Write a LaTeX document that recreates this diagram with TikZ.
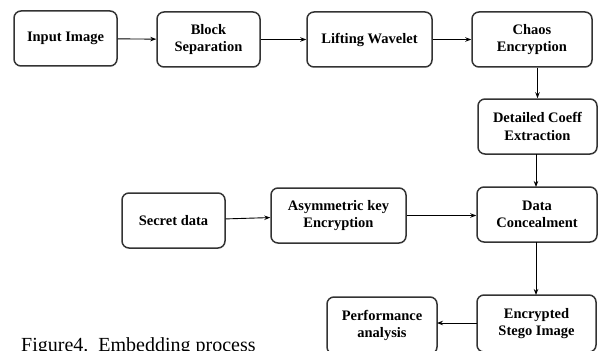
\documentclass[tikz,border=0pt]{standalone}
\usepackage{fontspec}
\setmainfont{Liberation Serif}
\usetikzlibrary{arrows.meta}
\tikzset{
  blk/.style={draw=black!80, line width=1.5pt, rounded corners=7pt, align=center,
    font=\fontsize{14.5}{17.5}\selectfont\bfseries, inner sep=0pt},
  arr/.style={-{Stealth[length=6pt,width=4.5pt]}, line width=0.9pt}
}
\begin{document}
\begin{tikzpicture}[x=1pt,y=-1pt]
      \useasboundingbox (0,0) rectangle (601,350);
      \clip (0,0) rectangle (601,350);
      \draw
        (65.5,38.5) node[blk, minimum width=103pt, minimum height=55pt] (input){Input Image}
        (208.5,39.5) node[blk, minimum width=103pt, minimum height=55pt] (block){Block\\Separation}
        (369.5,39.5) node[blk, minimum width=125pt, minimum height=55pt] (lift){Lifting Wavelet}
        (532,39.5) node[blk, minimum width=120pt, minimum height=55pt] (chaos){Chaos\\Encryption}
        (537.5,126.5) node[blk, minimum width=119pt, minimum height=55pt] (coeff){Detailed Coeff\\Extraction}
        (537,214.5) node[blk, minimum width=120pt, minimum height=55pt] (conceal){Data\\Concealment}
        (173.5,220.5) node[blk, minimum width=103pt, minimum height=55pt] (secret){Secret data}
        (338.5,215.5) node[blk, minimum width=135pt, minimum height=55pt] (asym){Asymmetric key\\Encryption}
        (536.5,323.5) node[blk, minimum width=119pt, minimum height=57pt] (stego){Encrypted\\Stego Image}
        (382,325.5) node[blk, minimum width=110pt, minimum height=57pt] (perf){Performance\\analysis};
      \node[anchor=base west, font=\fontsize{20}{24}\selectfont, inner sep=0pt] (caption) at (21,351) {Figure4.\ \ Embedding process};
      \coordinate (c1) at (536,154);
      \coordinate (c2) at (536,187);
      \coordinate (c3) at (536,242);
      \coordinate (c4) at (536,295);
      \coordinate (c5) at (477,323);
      \coordinate (c6) at (437,323);
      \begin{scope}[arr]
        \draw (input) to (block);
        \draw (block) to (lift);
        \draw (lift) to (chaos);
        \draw (chaos.south -| coeff.north) to (coeff.north);
        \draw (c1) to (c2);
        \draw (secret) to (asym);
        \draw (asym) to (conceal.west |- asym);
        \draw (c3) to (c4);
        \draw (c5) to (c6);
      \end{scope}
    \end{tikzpicture}
\end{document}
